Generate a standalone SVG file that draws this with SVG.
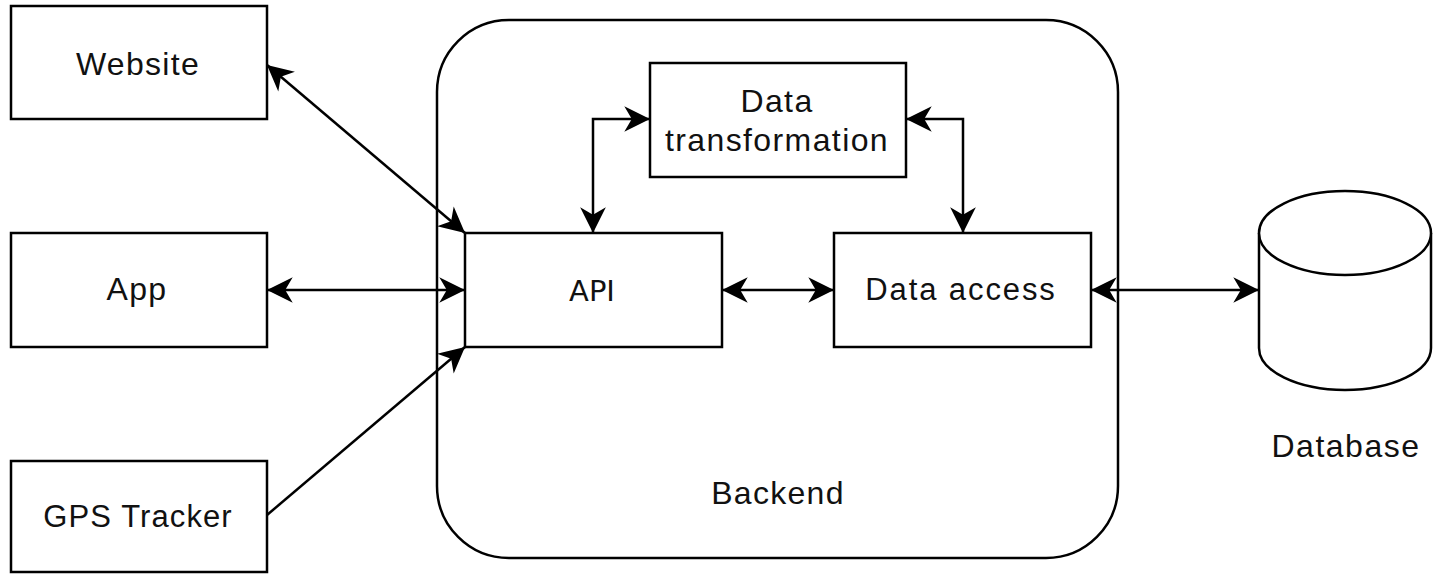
<svg xmlns="http://www.w3.org/2000/svg" width="1439" height="574" viewBox="0 0 1439 574">
<style>
.box{fill:#fff;stroke:#000;stroke-width:2.5}
.lbl{font-family:"Liberation Sans",Arial,sans-serif;font-size:32px;fill:#111;text-anchor:middle;letter-spacing:1.3px}
.api{font-family:"DejaVu Sans",Verdana,sans-serif;font-size:29px;fill:#111;text-anchor:middle}
.con{fill:none;stroke:#000;stroke-width:2.5}
</style>
<defs>
<marker id="ah" markerUnits="userSpaceOnUse" markerWidth="30" markerHeight="30" viewBox="-26 -13 28 26" refX="0" refY="0" orient="auto-start-reverse" overflow="visible">
<path d="M0,0 L-24,-12 L-17,0 L-24,12 Z" fill="#000"/>
</marker>
</defs>
<rect width="1439" height="574" fill="#fff"/>
<g id="backend">
<rect class="box" x="437" y="20" width="681" height="538" rx="72" ry="72"/>
<text class="lbl" x="778" y="504" font-size="31">Backend</text>
</g>
<g id="website">
<rect class="box" x="11" y="6" width="256" height="113"/>
<text class="lbl" x="138" y="75">Website</text>
</g>
<g id="app">
<rect class="box" x="11" y="233" width="256" height="114"/>
<text class="lbl" x="137" y="300">App</text>
</g>
<g id="gps">
<rect class="box" x="11" y="461" width="256" height="111"/>
<text class="lbl" x="138" y="527" style="font-size:31px;letter-spacing:1.1px">GPS Tracker</text>
</g>
<g id="api">
<rect class="box" x="465" y="233" width="257" height="114"/>
<text class="api" x="592" y="301">API</text>
</g>
<g id="datatransformation">
<rect class="box" x="650" y="63" width="256" height="114"/>
<text class="lbl" x="777" y="112" style="letter-spacing:1.4px">Data</text>
<text class="lbl" x="777" y="151" style="letter-spacing:1.4px">transformation</text>
</g>
<g id="dataaccess">
<rect class="box" x="834" y="233" width="257" height="114"/>
<text class="lbl" x="961" y="300" style="font-size:31px;letter-spacing:1.9px">Data access</text>
</g>
<g id="database">
<path class="box" d="M1259,233 L1259,348 A86,42 0 0 0 1431,348 L1431,233"/>
<ellipse class="box" cx="1345" cy="233" rx="86" ry="42"/>
<text class="lbl" x="1346" y="457" style="letter-spacing:1.5px">Database</text>
</g>
<g id="connectors">
<line class="con" x1="267" y1="65" x2="465" y2="233" marker-start="url(#ah)" marker-end="url(#ah)"/>
<line class="con" x1="267" y1="290" x2="465" y2="290" marker-start="url(#ah)" marker-end="url(#ah)"/>
<line class="con" x1="267" y1="515" x2="465" y2="347" marker-end="url(#ah)"/>
<line class="con" x1="722" y1="290" x2="834" y2="290" marker-start="url(#ah)" marker-end="url(#ah)"/>
<line class="con" x1="1091" y1="290" x2="1259" y2="290" marker-start="url(#ah)" marker-end="url(#ah)"/>
<polyline class="con" points="593,233 593,119 650,119" marker-start="url(#ah)" marker-end="url(#ah)"/>
<polyline class="con" points="906,119 963,119 963,233" marker-start="url(#ah)" marker-end="url(#ah)"/>
</g>
</svg>
